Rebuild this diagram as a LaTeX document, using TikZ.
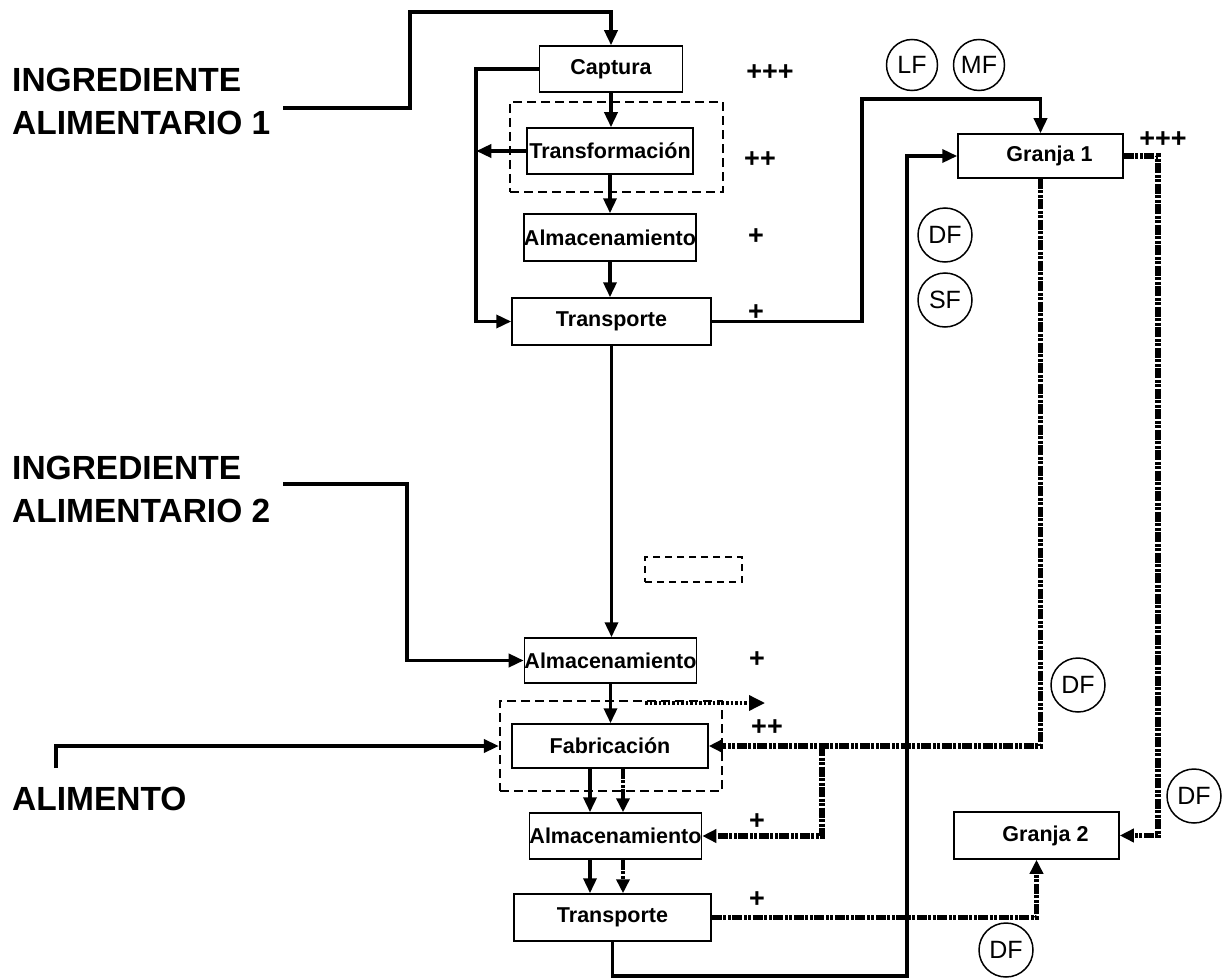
\documentclass[tikz,border=0pt]{standalone}
\usepackage{fontspec}
\setmainfont{Liberation Sans}
\usetikzlibrary{arrows.meta}

\begin{document}
\begin{tikzpicture}[
    x=1pt, y=-1pt,
    box/.style={draw, rectangle, line width=1.5pt, inner sep=0pt, font=\fontsize{21.5}{21.5}\selectfont\bfseries},
    grp/.style={draw, rectangle, line width=2.2pt, dash pattern=on 9pt off 5pt, inner sep=0pt},
    flag/.style={draw, circle, line width=1.5pt, minimum size=54pt, inner sep=0pt, font=\fontsize{25}{25}\selectfont},
    sign/.style={inner sep=0pt, font=\fontsize{27}{27}\selectfont\bfseries},
    ingr/.style={inner sep=0pt, anchor=west, align=left, font=\fontsize{33.5}{43}\selectfont\bfseries},
    conn/.style={line width=3.5pt, -{Triangle[length=15pt, width=13pt]}},
    dots/.style={line width=5.5pt, dash pattern=on 10pt off 1.5pt on 3pt off 1.5pt on 3pt off 1.5pt, -{Triangle[length=14pt, width=13pt]}}
  ]
  \useasboundingbox (0,0) rectangle (1226,979);

  \node[ingr] (ing1) at (12,101) {INGREDIENTE\\ALIMENTARIO 1};
  \node[ingr] (ing2) at (12,489) {INGREDIENTE\\ALIMENTARIO 2};
  \node[ingr] (alim) at (12,799) {ALIMENTO};

  \node[grp, minimum width=213pt, minimum height=90pt] (tgrp) at (616.5,147) {};
  \node[grp, minimum width=222pt, minimum height=90pt] (fgrp) at (611,746) {};
  \node[grp, line width=1.3pt, dash pattern=on 7pt off 5pt, minimum width=97pt, minimum height=25pt] (spare) at (693.5,569.5) {};

  \node[box, minimum width=143pt, minimum height=46pt] (capt) at (611,69) {Captura};
  \node[box, minimum width=166pt, minimum height=46pt] (transf) at (610,151) {Transformación};
  \node[box, minimum width=166pt, minimum height=47pt] (alm1) at (610,237.5) {Almacenamiento};
  \node[box, minimum width=199pt, minimum height=47pt] (transp1) at (611.5,321.5) {Transporte};
  \node[box, minimum width=165pt, minimum height=45pt] (alm2) at (610.5,660.5) {Almacenamiento};
  \node[box, minimum width=196pt, minimum height=44pt] (fabr) at (610,746) {Fabricación};
  \node[box, minimum width=163pt, minimum height=46pt] (alm3) at (615.5,836) {Almacenamiento};
  \node[box, minimum width=197pt, minimum height=47pt] (transp2) at (612.5,917.5) {Transporte};
  \node[box, minimum width=165pt, minimum height=44pt] (g1) at (1040.5,156) {\hspace*{18pt}Granja 1};
  \node[box, minimum width=165pt, minimum height=47pt] (g2) at (1036.5,835.5) {\hspace*{18pt}Granja 2};

  \node[flag, minimum size=51pt] (lf) at (912,65) {LF};
  \node[flag, minimum size=51pt] (mf) at (979,65) {MF};
  \node[flag] (df1) at (945,235) {DF};
  \node[flag] (sf) at (945,300) {SF};
  \node[flag] (df2) at (1078,685) {DF};
  \node[flag] (df3) at (1194,796) {DF};
  \node[flag] (df4) at (1006,950) {DF};

  \node[sign] (s1) at (770,73) {+++};
  \node[sign] (s2) at (760,160) {++};
  \node[sign] (s3) at (756,237) {+};
  \node[sign] (s4) at (756,313) {+};
  \node[sign] (s5) at (757,660) {+};
  \node[sign] (s6) at (767,728) {++};
  \node[sign] (s7) at (757,822) {+};
  \node[sign] (s8) at (757,900) {+};
  \node[sign] (s9) at (1163,140) {+++};

  \coordinate (in1) at (283,108);
  \coordinate (in2) at (283,484);
  \coordinate (in3) at (56,768);
  \coordinate (br) at (822,746);
  \coordinate (out1) at (645,703);
  \coordinate (out2) at (765,703);

  \draw[dots] (g1.south) |- (fabr.east);
  \draw[dots] (br) |- (alm3.east);
  \draw[dots] (g1.east) -- ++(34,0) |- (g2.east);
  \draw[dots] (transp2.east) -| (g2.south);
  \draw[dots, line width=4.5pt] ([xshift=13pt]fabr.south) -- ([xshift=13pt]fabr.south |- alm3.north);
  \draw[dots, line width=4.5pt] ([xshift=7.5pt]alm3.south) -- ([xshift=7.5pt]alm3.south |- transp2.north);
  \draw[dots, line width=3.5pt, dash pattern=on 2.5pt off 2pt, -{Triangle[length=16pt, width=15pt]}] (out1) -- (out2);

  \draw[conn] (in1) -| (410,12) -| (capt.north);
  \draw[conn] (capt.south) -- (capt.south |- transf.north);
  \draw[conn] (transf.south) -- (transf.south |- alm1.north);
  \draw[conn] (alm1.south) -- (alm1.south |- transp1.north);
  \draw[conn] (capt.west) -- ++(-63,0) |- (transp1.west);
  \draw[conn] (transf.west) -- ++(-50,0);
  \draw[conn] (transp1.east) -| (862,99) -| (g1.north);
  \draw[conn] (transp1.south) -- (transp1.south |- alm2.north);
  \draw[conn] (in2) -- (407,484) |- (alm2.west);
  \draw[conn] (alm2.south) -- (alm2.south |- fabr.north);
  \draw[conn] (in3) |- (fgrp.west);
  \draw[conn] ([xshift=-20pt]fabr.south) -- ([xshift=-20pt]fabr.south |- alm3.north);
  \draw[conn] ([xshift=-25.5pt]alm3.south) -- ([xshift=-25.5pt]alm3.south |- transp2.north);
  \draw[conn] (transp2.south) -- ++(0,34) -| (907,300) |- (g1.west);
\end{tikzpicture}
\end{document}
